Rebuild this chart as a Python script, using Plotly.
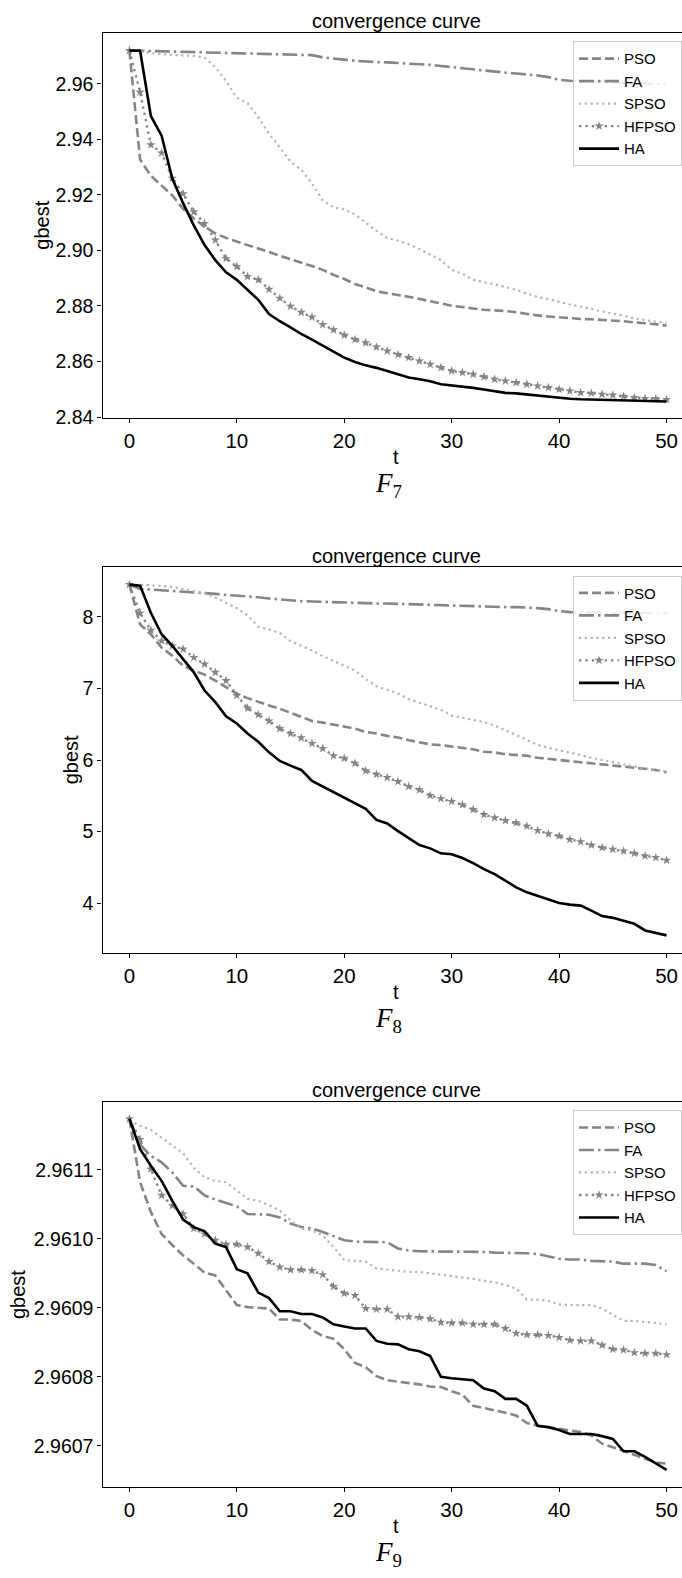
import plotly.graph_objects as go

W, H = 682, 1578
t = list(range(51))

# ---------------- F7 ----------------
f7_pso = [2.9720, 2.9327, 2.9269, 2.9232, 2.9198, 2.9150, 2.9115, 2.9085, 2.9061, 2.9045,
          2.9031, 2.9019, 2.9007, 2.8995, 2.8981, 2.8968, 2.8957, 2.8944, 2.8930, 2.8912,
          2.8897, 2.8879, 2.8867, 2.8853, 2.8846, 2.8840, 2.8833, 2.8825, 2.8816, 2.8809,
          2.8801, 2.8795, 2.8791, 2.8786, 2.8785, 2.8782, 2.8777, 2.8771, 2.8766, 2.8762,
          2.8759, 2.8755, 2.8753, 2.8752, 2.8750, 2.8747, 2.8745, 2.8741, 2.8738, 2.8734, 2.8729]
f7_fa = [2.9720, 2.9719, 2.9718, 2.9717, 2.9716, 2.9716, 2.9715, 2.9714, 2.9714, 2.9713,
         2.9712, 2.9711, 2.9710, 2.9709, 2.9708, 2.9707, 2.9706, 2.9703, 2.9695, 2.9690,
         2.9687, 2.9683, 2.9680, 2.9678, 2.9677, 2.9675, 2.9673, 2.9670, 2.9668, 2.9664,
         2.9660, 2.9655, 2.9650, 2.9647, 2.9643, 2.9640, 2.9637, 2.9634, 2.9630, 2.9624,
         2.9614, 2.9611, 2.9609, 2.9607, 2.9605, 2.9604, 2.9603, 2.9602, 2.9601, 2.9600, 2.9599]
f7_spso = [2.9720, 2.9718, 2.9710, 2.9706, 2.9704, 2.9702, 2.9700, 2.9694, 2.9660, 2.9610,
           2.9550, 2.9530, 2.9480, 2.9420, 2.9370, 2.9320, 2.9290, 2.9240, 2.9180, 2.9155,
           2.9148, 2.9130, 2.9100, 2.9070, 2.9045, 2.9035, 2.9022, 2.9005, 2.8985, 2.8965,
           2.8930, 2.8915, 2.8895, 2.8885, 2.8878, 2.8868, 2.8858, 2.8845, 2.8832, 2.8825,
           2.8815, 2.8805, 2.8798, 2.8788, 2.8780, 2.8772, 2.8765, 2.8755, 2.8748, 2.8743, 2.8740]
f7_hfpso = [2.9720, 2.9570, 2.9380, 2.9351, 2.9260, 2.9204, 2.9139, 2.9097, 2.9037, 2.8971,
            2.8942, 2.8906, 2.8894, 2.8860, 2.8828, 2.8799, 2.8777, 2.8760, 2.8733, 2.8714,
            2.8695, 2.8679, 2.8667, 2.8652, 2.8638, 2.8625, 2.8614, 2.8602, 2.8590, 2.8578,
            2.8566, 2.8560, 2.8554, 2.8545, 2.8536, 2.8530, 2.8524, 2.8518, 2.8512, 2.8506,
            2.8500, 2.8494, 2.8488, 2.8486, 2.8482, 2.8479, 2.8475, 2.8470, 2.8467, 2.8466, 2.8463]
f7_ha = [2.9720, 2.9719, 2.9484, 2.9413, 2.9258, 2.9170, 2.9090, 2.9019, 2.8965, 2.8921,
         2.8894, 2.8858, 2.8822, 2.8771, 2.8745, 2.8723, 2.8699, 2.8679, 2.8658, 2.8635,
         2.8614, 2.8598, 2.8586, 2.8577, 2.8566, 2.8554, 2.8542, 2.8536, 2.8529, 2.8518,
         2.8514, 2.8510, 2.8505, 2.8499, 2.8492, 2.8487, 2.8485, 2.8481, 2.8477, 2.8474,
         2.8469, 2.8466, 2.8464, 2.8463, 2.8462, 2.8461, 2.8460, 2.8459, 2.8458, 2.8457, 2.8456]

# ---------------- F8 ----------------
f8_pso = [8.450, 7.894, 7.756, 7.571, 7.455, 7.317, 7.247, 7.192, 7.109, 7.016,
          6.924, 6.864, 6.808, 6.762, 6.716, 6.661, 6.600, 6.545, 6.522, 6.495,
          6.471, 6.439, 6.392, 6.370, 6.337, 6.315, 6.277, 6.245, 6.218, 6.208,
          6.190, 6.162, 6.149, 6.116, 6.107, 6.079, 6.070, 6.060, 6.032, 6.014,
          6.000, 5.976, 5.968, 5.954, 5.940, 5.921, 5.907, 5.893, 5.875, 5.861, 5.829]
f8_fa = [8.450, 8.388, 8.379, 8.370, 8.356, 8.342, 8.333, 8.324, 8.320, 8.305,
         8.296, 8.287, 8.273, 8.255, 8.241, 8.227, 8.218, 8.214, 8.208, 8.204,
         8.204, 8.194, 8.185, 8.185, 8.185, 8.180, 8.176, 8.171, 8.167, 8.162,
         8.158, 8.158, 8.148, 8.139, 8.135, 8.135, 8.135, 8.130, 8.121, 8.107,
         8.079, 8.065, 8.060, 8.057, 8.056, 8.055, 8.054, 8.052, 8.050, 8.049, 8.047]
f8_spso = [8.450, 8.448, 8.440, 8.430, 8.415, 8.385, 8.360, 8.330, 8.270, 8.200,
           8.120, 8.020, 7.860, 7.820, 7.775, 7.660, 7.600, 7.530, 7.450, 7.380,
           7.320, 7.250, 7.130, 7.030, 6.980, 6.930, 6.850, 6.800, 6.750, 6.700,
           6.620, 6.590, 6.570, 6.530, 6.480, 6.420, 6.350, 6.280, 6.210, 6.170,
           6.140, 6.100, 6.070, 6.030, 6.000, 5.960, 5.930, 5.900, 5.880, 5.860, 5.840]
f8_hfpso = [8.450, 8.050, 7.811, 7.663, 7.594, 7.548, 7.432, 7.340, 7.224, 7.109,
            6.901, 6.725, 6.633, 6.545, 6.439, 6.370, 6.309, 6.231, 6.162, 6.060,
            6.024, 5.954, 5.850, 5.800, 5.755, 5.699, 5.630, 5.584, 5.505, 5.459,
            5.422, 5.376, 5.307, 5.238, 5.192, 5.155, 5.123, 5.076, 5.016, 4.970,
            4.937, 4.891, 4.859, 4.812, 4.776, 4.753, 4.729, 4.697, 4.660, 4.638, 4.600]
f8_ha = [8.449, 8.435, 8.055, 7.756, 7.594, 7.410, 7.224, 6.970, 6.808, 6.610,
         6.509, 6.370, 6.254, 6.107, 5.986, 5.921, 5.861, 5.709, 5.630, 5.552,
         5.478, 5.394, 5.317, 5.164, 5.113, 5.006, 4.905, 4.812, 4.766, 4.697,
         4.683, 4.632, 4.559, 4.475, 4.406, 4.313, 4.222, 4.152, 4.105, 4.060,
         4.004, 3.981, 3.967, 3.897, 3.820, 3.796, 3.759, 3.713, 3.620, 3.589, 3.551]

# ---------------- F9 ----------------
f9_pso = [2.961174, 2.961082, 2.961039, 2.961007, 2.960991, 2.960976, 2.960964, 2.960951, 2.960947, 2.960926,
          2.960904, 2.960901, 2.960900, 2.960899, 2.960883, 2.960883, 2.960881, 2.960868, 2.960859, 2.960855,
          2.960840, 2.960820, 2.960814, 2.960801, 2.960795, 2.960793, 2.960792, 2.960789, 2.960786, 2.960785,
          2.960779, 2.960774, 2.960758, 2.960755, 2.960752, 2.960748, 2.960744, 2.960733, 2.960729, 2.960727,
          2.960724, 2.960722, 2.960720, 2.960715, 2.960703, 2.960698, 2.960693, 2.960687, 2.960681, 2.960676, 2.960674]
f9_fa = [2.961174, 2.961137, 2.961120, 2.961111, 2.961096, 2.961077, 2.961076, 2.961063, 2.961057, 2.961052,
         2.961047, 2.961036, 2.961035, 2.961035, 2.961031, 2.961022, 2.961017, 2.961015, 2.961010, 2.961004,
         2.960998, 2.960996, 2.960996, 2.960996, 2.960995, 2.960986, 2.960983, 2.960982, 2.960982, 2.960981,
         2.960981, 2.960981, 2.960981, 2.960981, 2.960980, 2.960980, 2.960979, 2.960979, 2.960978, 2.960975,
         2.960971, 2.960970, 2.960970, 2.960968, 2.960967, 2.960967, 2.960964, 2.960964, 2.960964, 2.960962, 2.960953]
f9_spso = [2.961172, 2.961164, 2.961158, 2.961146, 2.961135, 2.961124, 2.961103, 2.961089, 2.961084, 2.961082,
           2.961070, 2.961058, 2.961055, 2.961049, 2.961041, 2.961027, 2.961015, 2.961012, 2.961005, 2.960988,
           2.960969, 2.960968, 2.960967, 2.960957, 2.960955, 2.960954, 2.960952, 2.960952, 2.960950, 2.960949,
           2.960947, 2.960945, 2.960942, 2.960939, 2.960937, 2.960933, 2.960928, 2.960912, 2.960912, 2.960910,
           2.960905, 2.960904, 2.960904, 2.960904, 2.960899, 2.960890, 2.960881, 2.960881, 2.960880, 2.960878, 2.960876]
f9_hfpso = [2.961174, 2.961144, 2.961101, 2.961063, 2.961048, 2.961036, 2.961015, 2.961007, 2.960998, 2.960992,
            2.960992, 2.960988, 2.960979, 2.960967, 2.960959, 2.960955, 2.960955, 2.960954, 2.960948, 2.960931,
            2.960921, 2.960918, 2.960899, 2.960898, 2.960898, 2.960887, 2.960887, 2.960886, 2.960884, 2.960879,
            2.960878, 2.960878, 2.960876, 2.960876, 2.960876, 2.960870, 2.960863, 2.960861, 2.960861, 2.960860,
            2.960857, 2.960853, 2.960852, 2.960852, 2.960846, 2.960840, 2.960839, 2.960835, 2.960834, 2.960834, 2.960832]
f9_ha = [2.961174, 2.961130, 2.961106, 2.961084, 2.961055, 2.961028, 2.961017, 2.961011, 2.960993, 2.960988,
         2.960956, 2.960950, 2.960922, 2.960914, 2.960895, 2.960895, 2.960891, 2.960891, 2.960886, 2.960876,
         2.960873, 2.960870, 2.960870, 2.960852, 2.960848, 2.960847, 2.960840, 2.960837, 2.960830, 2.960800,
         2.960798, 2.960796, 2.960795, 2.960783, 2.960779, 2.960768, 2.960768, 2.960758, 2.960729, 2.960727,
         2.960723, 2.960717, 2.960717, 2.960717, 2.960714, 2.960710, 2.960692, 2.960692, 2.960684, 2.960675, 2.960665]

algos = ["PSO", "FA", "SPSO", "HFPSO", "HA"]
panels = [
    dict(series=[f7_pso, f7_fa, f7_spso, f7_hfpso, f7_ha], label="F", sub="7",
         top=33.3, bottom=421.0, yrange=[2.83953, 2.97825],
         yticks=[2.84, 2.86, 2.88, 2.90, 2.92, 2.94, 2.96], yfmt=".2f", ylabx=42),
    dict(series=[f8_pso, f8_fa, f8_spso, f8_hfpso, f8_ha], label="F", sub="8",
         top=571.0, bottom=959.3, yrange=[3.302, 8.6895],
         yticks=[4, 5, 6, 7, 8], yfmt="d", ylabx=71),
    dict(series=[f9_pso, f9_fa, f9_spso, f9_hfpso, f9_ha], label="F", sub="9",
         top=1109.0, bottom=1496.7, yrange=[2.96063993, 2.96119838],
         yticks=[2.9607, 2.9608, 2.9609, 2.9610, 2.9611], yfmt=".4f", ylabx=17.5),
]

styles = {
    "PSO": dict(color="#858585", width=2.6, dash="9px,4px"),
    "FA": dict(color="#858585", width=2.6, dash="15px,4px,2.5px,4px"),
    "SPSO": dict(color="#b3b3b3", width=2.2, dash="2.2px,3.6px"),
    "HFPSO": dict(color="#858585", width=2.4, dash="2.4px,4px"),
    "HA": dict(color="#000000", width=2.6, dash="solid"),
}

FONT = "Liberation Sans, Arial, sans-serif"
X0, X1 = 102.5, 682.0
fig = go.Figure()
annotations = []

for i, p in enumerate(panels):
    n = "" if i == 0 else str(i + 1)
    xa, ya = "x" + n, "y" + n
    leg = "legend" + n
    for name, vals in zip(algos, p["series"]):
        st = styles[name]
        mode = "lines+markers" if name == "HFPSO" else "lines"
        fig.add_trace(go.Scatter(
            x=t, y=vals, name=name, mode=mode, xaxis=xa, yaxis=ya, legend=leg,
            line=dict(color=st["color"], width=st["width"], dash=st["dash"]),
            marker=dict(symbol="star", size=7, color="#858585", line=dict(width=0)),
            showlegend=True,
        ))
    ydom = [1 - p["bottom"] / H, 1 - p["top"] / H]
    fig.update_layout(**{
        "xaxis" + n: dict(domain=[X0 / W, X1 / W], range=[-2.5, (X1 - 128.8) / 10.755],
                          anchor=ya, tickvals=[0, 10, 20, 30, 40, 50],
                          showline=True, linecolor="black", linewidth=1.3, mirror=True,
                          ticks="outside", ticklen=4, tickwidth=1, tickcolor="black",
                          showgrid=False, zeroline=False,
                          tickfont=dict(family=FONT, size=20.5, color="black")),
        "yaxis" + n: dict(domain=ydom, range=p["yrange"], anchor=xa,
                          tickvals=p["yticks"], tickformat=p["yfmt"],
                          showline=True, linecolor="black", linewidth=1.3,
                          ticks="outside", ticklen=4, tickwidth=1, tickcolor="black",
                          showgrid=False, zeroline=False,
                          tickfont=dict(family=FONT, size=19.5, color="black")),
        leg: dict(x=1.0, xanchor="right", y=1 - (p["top"] + 8.3) / H, yanchor="top",
                  bgcolor="rgba(255,255,255,0.85)", bordercolor="#cccccc", borderwidth=1,
                  font=dict(family=FONT, size=15, color="black"), itemwidth=40,
                  tracegroupgap=0),
    })
    cx = 396.0
    annotations += [
        dict(text="convergence curve", x=cx / W, y=1 - (p["top"] - 11.8) / H, xref="paper",
             yref="paper", showarrow=False, xanchor="center", yanchor="middle",
             font=dict(family=FONT, size=20, color="black")),
        dict(text="t", x=cx / W, y=1 - (p["bottom"] + 39) / H, xref="paper", yref="paper",
             showarrow=False, xanchor="center", yanchor="middle",
             font=dict(family=FONT, size=20, color="black")),
        dict(text="<i>%s</i><sub>%s</sub>" % (p["label"], p["sub"]), x=388 / W,
             y=1 - (p["bottom"] + 67) / H, xref="paper", yref="paper", showarrow=False,
             xanchor="center", yanchor="middle",
             font=dict(family="Liberation Serif, serif", size=27, color="black")),
        dict(text="gbest", x=p["ylabx"] / W, y=1 - ((p["top"] + p["bottom"]) / 2) / H,
             xref="paper", yref="paper", showarrow=False, textangle=-90,
             xanchor="center", yanchor="middle",
             font=dict(family=FONT, size=20, color="black")),
    ]

fig.update_layout(width=W, height=H, margin=dict(l=0, r=0, t=0, b=0),
                  paper_bgcolor="white", plot_bgcolor="white",
                  annotations=annotations, showlegend=True)

fig.write_html("out.html")
